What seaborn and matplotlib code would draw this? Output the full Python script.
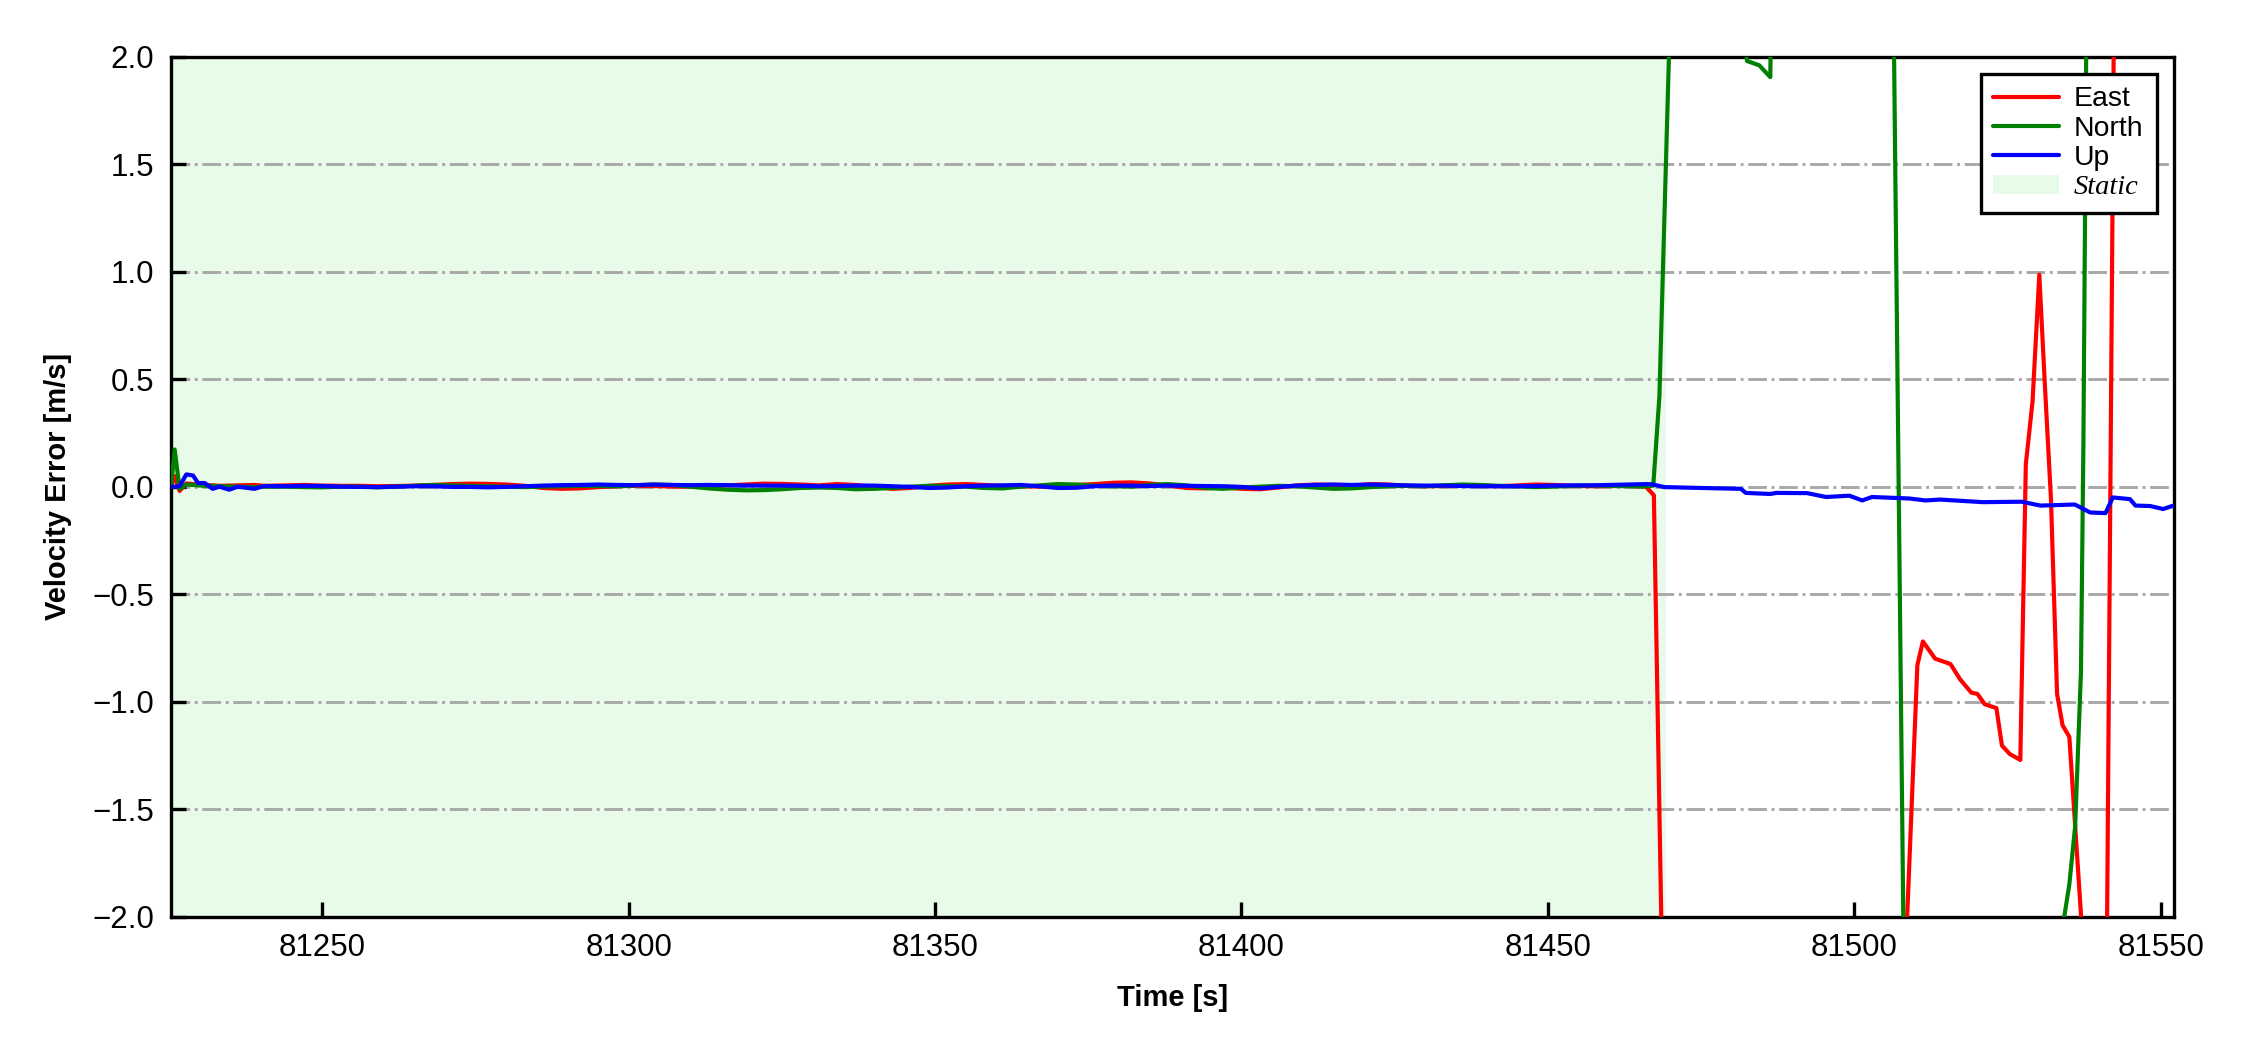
import numpy as np
import pandas as pd
import matplotlib
matplotlib.use("Agg")
import matplotlib.pyplot as plt
import seaborn as sns
from matplotlib.patches import Patch
from matplotlib.lines import Line2D

# ---------------- data ----------------
# early transient sample times
t_early = [81225.3, 81225.9, 81226.7, 81227.8, 81228.9, 81229.7, 81230.8,
           81232.1, 81233.2, 81234.8, 81236.2, 81238.9, 81240.5]
# regular static-period samples (every 3 s)
t_static = list(np.arange(81244.0, 81466.1, 3.0))

east_early = [0.0, 0.049, -0.02, 0.015, 0.012, 0.01, 0.008, 0.006, 0.004, 0.005, 0.006, 0.008, 0.004]
north_early = [0.0, 0.173, -0.01, 0.01, 0.008, 0.006, 0.004, 0.003, 0.002, 0.001, 0.0, -0.002, 0.0]
up_early = [0.0, 0.0, 0.002, 0.057, 0.052, 0.017, 0.017, -0.01, 0.0, -0.014, 0.0, -0.01, 0.003]

east_static = [0.006, 0.008, 0.005, 0.004,
               0.004, 0.002, 0.003, 0.005, 0.008, 0.012, 0.014, 0.013, 0.010, 0.004, -0.006, -0.010, -0.008,
               -0.002, 0.002, 0.004, 0.003, 0.001, 0.000, 0.003, 0.006, 0.010, 0.014, 0.013, 0.010,
               0.006, 0.012, 0.008, 0.000, -0.010, -0.006, 0.004, 0.010, 0.012, 0.008, 0.004, 0.002,
               0.000, 0.004, 0.008, 0.012, 0.018, 0.020, 0.015, 0.006, -0.006, -0.008, -0.004, -0.010,
               -0.012, -0.004, 0.006, 0.010, 0.008, 0.004, 0.012, 0.010, 0.004, 0.002, 0.003, 0.005,
               0.004, 0.002, 0.006, 0.010, 0.008, 0.004, 0.002, 0.003, 0.004, 0.000]
north_static = [0.0, -0.002, -0.003, 0.0,
                0.0, -0.003, 0.0, 0.004, 0.008, 0.006, 0.004, 0.002, 0.000, -0.002, 0.000, 0.002, 0.004,
                0.003, 0.002, 0.006, 0.010, 0.008, 0.000, -0.008, -0.014, -0.017, -0.016, -0.012, -0.006,
                -0.004, -0.006, -0.012, -0.010, -0.006, 0.000, 0.004, 0.003, 0.000, -0.006, -0.008, 0.000,
                0.006, 0.012, 0.010, 0.004, 0.002, 0.000, 0.008, 0.012, 0.006, -0.006, -0.010, -0.004,
                0.000, 0.004, 0.002, -0.004, -0.010, -0.008, -0.002, 0.002, 0.004, 0.002, 0.006, 0.010,
                0.008, 0.004, 0.002, -0.002, 0.000, 0.004, 0.006, 0.004, 0.002, 0.001]
up_static = [0.002, 0.004, 0.003, 0.0,
             -0.001, -0.002, 0.0, 0.002, 0.002, -0.001, -0.001, -0.003, -0.001, 0.002, 0.005, 0.007, 0.008,
             0.010, 0.008, 0.007, 0.010, 0.008, 0.007, 0.008, 0.007, 0.005, 0.005, 0.005, 0.004,
             0.002, 0.003, 0.005, 0.005, 0.002, -0.001, -0.006, -0.004, 0.002, 0.005, 0.006, 0.008,
             0.002, -0.006, -0.005, 0.002, 0.005, 0.005, 0.003, 0.005, 0.004, 0.003, 0.002, -0.001,
             -0.008, -0.001, 0.005, 0.008, 0.010, 0.008, 0.010, 0.008, 0.006, 0.005, 0.005, 0.003,
             0.002, 0.002, 0.002, 0.003, 0.005, 0.006, 0.006, 0.008, 0.010, 0.012]

# after the static period
east_post_t = [81467.3, 81469.3, 81507.5, 81510.3, 81511.2, 81513.2, 81514.2, 81515.7, 81517.3,
               81519.1, 81520.1, 81521.3, 81523.2, 81524.1, 81525.4, 81527.1, 81528.0, 81529.1,
               81530.2, 81531.1, 81532.1, 81533.1, 81534.0, 81535.1, 81537.0, 81538.0, 81541.0,
               81542.6, 81552.1]
east_post_v = [-0.04, -3.3, -2.8, -0.83, -0.72, -0.80, -0.81, -0.825, -0.897,
               -0.958, -0.964, -1.012, -1.03, -1.204, -1.244, -1.271, 0.104, 0.398,
               0.986, 0.478, -0.056, -0.964, -1.11, -1.164, -1.99, -2.45, -3.0,
               3.0, 3.5]
north_post_t = [81467.2, 81468.2, 81470.2, 81481.5, 81482.5, 81484.5, 81486.3, 81486.6,
                81506.0, 81508.5, 81534.0, 81535.1, 81536.05, 81537.0, 81537.4, 81538.0, 81552.1]
north_post_v = [0.005, 0.42, 2.45, 2.3, 1.98, 1.96, 1.905, 2.6,
                3.33, -3.33, -2.05, -1.85, -1.58, -0.86, 0.21, 2.6, 3.0]
up_post_t = [81467.0, 81469.0, 81475.0, 81481.5, 81482.3, 81486.3, 81487.3, 81492.3, 81495.4,
             81499.2, 81501.3, 81502.9, 81509.0, 81511.6, 81514.0, 81521.0, 81527.3, 81530.4,
             81536.0, 81538.5, 81541.0, 81542.2, 81545.0, 81545.9, 81548.3, 81550.4, 81552.1]
up_post_v = [0.011, -0.002, -0.006, -0.01, -0.029, -0.034, -0.029, -0.03, -0.048,
             -0.042, -0.064, -0.048, -0.055, -0.064, -0.060, -0.072, -0.070, -0.088,
             -0.083, -0.12, -0.123, -0.05, -0.058, -0.088, -0.09, -0.104, -0.088]

static_start = 81225.3
static_end = 81469.2

# ---------------- plot ----------------
sns.set_theme(style="white")
plt.rcParams['font.family'] = ['Liberation Sans', 'DejaVu Sans']
plt.rcParams['text.color'] = 'black'
plt.rcParams['axes.labelcolor'] = 'black'
plt.rcParams['xtick.color'] = 'black'
plt.rcParams['ytick.color'] = 'black'

fig = plt.figure(figsize=(7.5, 3.5), dpi=300)
ax = fig.add_axes([0.076, 0.127, 0.890, 0.819])

ax.axvspan(static_start, static_end, color='lightgreen', alpha=0.2, lw=0, zorder=0)

series = [
    ("East", 'red', t_early + t_static + east_post_t, east_early + east_static + east_post_v),
    ("North", 'green', t_early + t_static + north_post_t, north_early + north_static + north_post_v),
    ("Up", 'blue', t_early + t_static + up_post_t, up_early + up_static + up_post_v),
]
for name, col, tt, vv in series:
    df = pd.DataFrame({"t": tt, "v": vv})
    sns.lineplot(data=df, x="t", y="v", ax=ax, color=col, lw=1.0,
                 estimator=None, sort=False, legend=False, zorder=3)

ax.set_xlim(81225.3, 81552.1)
ax.set_ylim(-2.0, 2.0)
ax.set_xticks([81250, 81300, 81350, 81400, 81450, 81500, 81550])
ax.set_yticks([-2.0, -1.5, -1.0, -0.5, 0.0, 0.5, 1.0, 1.5, 2.0])
ax.set_yticklabels(["\u22122.0", "\u22121.5", "\u22121.0", "\u22120.5", "0.0", "0.5", "1.0", "1.5", "2.0"])

ax.yaxis.grid(True, linestyle='-.', color='#a8a8a8', lw=0.7, zorder=1)
ax.xaxis.grid(False)
ax.set_axisbelow(True)

for s in ax.spines.values():
    s.set_color('black')
    s.set_linewidth(0.8)

ax.tick_params(axis='both', direction='in', length=3.5, width=0.8, labelsize=7.5,
               colors='black', labelcolor='black', pad=4,
               bottom=True, left=True, top=False, right=False)

ax.set_xlabel("Time [s]", fontsize=7, fontweight='bold', labelpad=5, color='black')
ax.set_ylabel("Velocity Error [m/s]", fontsize=7, fontweight='bold', labelpad=5, color='black')

handles = [Line2D([], [], color='red', lw=1.0),
           Line2D([], [], color='green', lw=1.0),
           Line2D([], [], color='blue', lw=1.0),
           Patch(facecolor='lightgreen', alpha=0.2, edgecolor='none')]
leg = ax.legend(handles, ["East", "North", "Up", "Static"], loc='upper right',
                fontsize=6.8, frameon=True, fancybox=False, framealpha=1,
                edgecolor='black', labelspacing=0.12, handlelength=2.3,
                handletextpad=0.55, borderpad=0.45, borderaxespad=0.6)
leg.get_frame().set_linewidth(0.8)
for txt in leg.get_texts():
    txt.set_color('black')
leg.get_texts()[3].set_fontfamily(['Liberation Serif', 'DejaVu Serif'])
leg.get_texts()[3].set_fontstyle('italic')

fig.savefig("out.png", dpi=300)
